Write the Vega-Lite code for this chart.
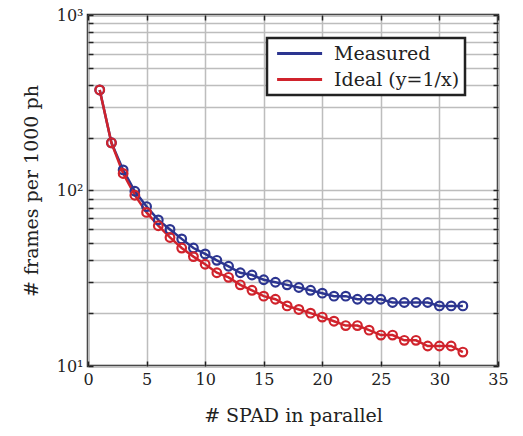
{
  "$schema": "https://vega.github.io/schema/vega-lite/v6.json",
  "width": 410,
  "height": 351,
  "autosize": "none",
  "padding": {"left": 88, "top": 15, "right": 25, "bottom": 70},
  "background": "white",
  "config": {
    "font": "DejaVu Serif",
    "view": {"stroke": "#222222", "strokeWidth": 2.5},
    "axis": {"labelFont": "DejaVu Serif", "titleFont": "DejaVu Serif", "labelColor": "#222", "titleColor": "#222", "titleFontWeight": "normal"}
  },
  "data": {"values": [
    {"x":1,"y":374,"s":"Measured"},{"x":2,"y":187,"s":"Measured"},{"x":3,"y":131,"s":"Measured"},{"x":4,"y":99,"s":"Measured"},{"x":5,"y":81,"s":"Measured"},{"x":6,"y":68,"s":"Measured"},{"x":7,"y":60,"s":"Measured"},{"x":8,"y":53,"s":"Measured"},{"x":9,"y":47,"s":"Measured"},{"x":10,"y":43.5,"s":"Measured"},{"x":11,"y":40,"s":"Measured"},{"x":12,"y":37,"s":"Measured"},{"x":13,"y":34,"s":"Measured"},{"x":14,"y":33,"s":"Measured"},{"x":15,"y":31,"s":"Measured"},{"x":16,"y":30,"s":"Measured"},{"x":17,"y":29,"s":"Measured"},{"x":18,"y":28,"s":"Measured"},{"x":19,"y":27,"s":"Measured"},{"x":20,"y":26,"s":"Measured"},{"x":21,"y":25,"s":"Measured"},{"x":22,"y":25,"s":"Measured"},{"x":23,"y":24,"s":"Measured"},{"x":24,"y":24,"s":"Measured"},{"x":25,"y":24,"s":"Measured"},{"x":26,"y":23,"s":"Measured"},{"x":27,"y":23,"s":"Measured"},{"x":28,"y":23,"s":"Measured"},{"x":29,"y":23,"s":"Measured"},{"x":30,"y":22,"s":"Measured"},{"x":31,"y":22,"s":"Measured"},{"x":32,"y":22,"s":"Measured"},
    {"x":1,"y":374,"s":"Ideal (y=1/x)"},{"x":2,"y":187,"s":"Ideal (y=1/x)"},{"x":3,"y":125,"s":"Ideal (y=1/x)"},{"x":4,"y":94,"s":"Ideal (y=1/x)"},{"x":5,"y":75,"s":"Ideal (y=1/x)"},{"x":6,"y":63,"s":"Ideal (y=1/x)"},{"x":7,"y":54,"s":"Ideal (y=1/x)"},{"x":8,"y":47,"s":"Ideal (y=1/x)"},{"x":9,"y":42,"s":"Ideal (y=1/x)"},{"x":10,"y":38,"s":"Ideal (y=1/x)"},{"x":11,"y":34,"s":"Ideal (y=1/x)"},{"x":12,"y":32,"s":"Ideal (y=1/x)"},{"x":13,"y":29,"s":"Ideal (y=1/x)"},{"x":14,"y":27,"s":"Ideal (y=1/x)"},{"x":15,"y":25,"s":"Ideal (y=1/x)"},{"x":16,"y":24,"s":"Ideal (y=1/x)"},{"x":17,"y":22,"s":"Ideal (y=1/x)"},{"x":18,"y":21,"s":"Ideal (y=1/x)"},{"x":19,"y":20,"s":"Ideal (y=1/x)"},{"x":20,"y":19,"s":"Ideal (y=1/x)"},{"x":21,"y":18,"s":"Ideal (y=1/x)"},{"x":22,"y":17,"s":"Ideal (y=1/x)"},{"x":23,"y":17,"s":"Ideal (y=1/x)"},{"x":24,"y":16,"s":"Ideal (y=1/x)"},{"x":25,"y":15,"s":"Ideal (y=1/x)"},{"x":26,"y":15,"s":"Ideal (y=1/x)"},{"x":27,"y":14,"s":"Ideal (y=1/x)"},{"x":28,"y":14,"s":"Ideal (y=1/x)"},{"x":29,"y":13,"s":"Ideal (y=1/x)"},{"x":30,"y":13,"s":"Ideal (y=1/x)"},{"x":31,"y":13,"s":"Ideal (y=1/x)"},{"x":32,"y":12,"s":"Ideal (y=1/x)"}
  ]},
  "resolve": {"axis": {"x": "independent", "y": "independent"}},
  "layer": [
    {
      "mark": {"type": "line", "strokeWidth": 2.5},
      "encoding": {
        "x": {"field": "x", "type": "quantitative",
          "scale": {"domain": [0, 35], "nice": false},
          "axis": {"values": [0,5,10,15,20,25,30,35], "title": "# SPAD in parallel", "titleFontSize": 19, "titlePadding": 19, "labelFontSize": 16, "labelPadding": 10, "tickSize": -5, "tickColor": "#222", "tickWidth": 1.5, "domain": false, "grid": true, "gridColor": "#bdbdbd", "gridWidth": 1.5, "labelFlush": false}},
        "y": {"field": "y", "type": "quantitative",
          "scale": {"type": "log", "domain": [10, 1000], "nice": false},
          "axis": {"values": [10,20,30,40,50,60,70,80,90,100,200,300,400,500,600,700,800,900,1000], "labelExpr": "datum.value == 10 ? '10¹' : datum.value == 100 ? '10²' : datum.value == 1000 ? '10³' : ''", "labelOverlap": false, "title": "# frames per 1000 ph", "titleFontSize": 19, "titlePadding": 15, "labelFontSize": 16, "labelPadding": 10, "tickSize": -5, "tickColor": "#222", "tickWidth": 1.5, "domain": false, "grid": true, "gridColor": "#bdbdbd", "gridWidth": 1.5, "labelFlush": false}},
        "color": {"field": "s", "type": "nominal", "sort": ["Measured", "Ideal (y=1/x)"],
          "scale": {"domain": ["Measured", "Ideal (y=1/x)"], "range": ["#2c3590", "#d0232c"]},
          "legend": {"title": null, "orient": "none", "legendX": 179, "legendY": 23, "symbolType": "M-0.6,0H4.4", "symbolSize": 324, "symbolStrokeWidth": 3, "labelFont": "DejaVu Serif", "labelFontSize": 19, "labelColor": "#222", "strokeColor": "#222", "fillColor": "white", "padding": 5, "labelOffset": 41, "rowPadding": 5,
            "encode": {"legend": {"update": {"strokeWidth": {"value": 2.5}}}}}}
      }
    },
    {
      "mark": {"type": "point", "filled": false, "size": 75, "strokeWidth": 2.2, "opacity": 1},
      "encoding": {
        "x": {"field": "x", "type": "quantitative",
          "scale": {"domain": [0, 35], "nice": false},
          "axis": {"orient": "top", "values": [0,5,10,15,20,25,30,35], "title": null, "labels": false, "tickSize": -5, "tickColor": "#222", "tickWidth": 1.5, "domain": false, "grid": false}},
        "y": {"field": "y", "type": "quantitative",
          "scale": {"type": "log", "domain": [10, 1000], "nice": false},
          "axis": {"orient": "right", "values": [10,20,30,40,50,60,70,80,90,100,200,300,400,500,600,700,800,900,1000], "title": null, "labels": false, "tickSize": -5, "tickColor": "#222", "tickWidth": 1.5, "domain": false, "grid": false}},
        "color": {"field": "s", "type": "nominal", "sort": ["Measured", "Ideal (y=1/x)"],
          "scale": {"domain": ["Measured", "Ideal (y=1/x)"], "range": ["#2c3590", "#d0232c"]}}
      }
    }
  ]
}
